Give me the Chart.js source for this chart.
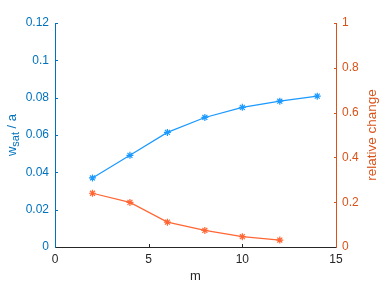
<!DOCTYPE html>
<html><head><meta charset="utf-8">
<script src="https://cdn.jsdelivr.net/npm/chart.js@4.4.0/dist/chart.umd.min.js"></script>
<style>html,body{margin:0;padding:0;background:#fff;}canvas{display:block;}</style>
</head><body>
<canvas id="c" width="379" height="285"></canvas>
<script>
// ---- data ----
const mBlue = [2, 4, 6, 8, 10, 12, 14];
const wsatValues = [0.0370, 0.0491, 0.0614, 0.0694, 0.0748, 0.0781, 0.0808];
const mOrange = [2, 4, 6, 8, 10, 12];
const relChangeValues = [0.240, 0.199, 0.111, 0.074, 0.046, 0.031];
const xTicks = [0, 5, 10, 15];
const leftTicks = [0, 0.02, 0.04, 0.06, 0.08, 0.1, 0.12];
const rightTicks = [0, 0.2, 0.4, 0.6, 0.8, 1];
const xTitle = 'm';
const leftTitleMain = 'w';
const leftTitleSub = 'sat';
const leftTitleRest = ' / a';
const rightTitle = 'relative change';

// ---- styles ----
const LEFT_C = '#0072BD';
const RIGHT_C = '#D95319';
const AX_C = '#262626';
const BLUE_LINE = 'rgb(26,153,255)';
const ORANGE_LINE = 'rgb(255,102,51)';
const FONT = "'Liberation Sans', Arial, sans-serif";

function setTicks(arr) { return function (scale) { scale.ticks = arr.map(v => ({ value: v })); }; }

const inwardTicks = {
  id: 'inwardTicks',
  afterDatasetsDraw(chart) {
    const { ctx, chartArea: a, scales } = chart;
    const L = 3;
    ctx.save();
    ctx.lineWidth = 1;
    ctx.strokeStyle = AX_C;
    scales.x.ticks.forEach(t => {
      if (t.value === scales.x.min || t.value === scales.x.max) return;
      const px = Math.round(scales.x.getPixelForValue(t.value)) + 0.5;
      ctx.beginPath(); ctx.moveTo(px, a.bottom); ctx.lineTo(px, a.bottom - L); ctx.stroke();
    });
    ctx.strokeStyle = LEFT_C;
    scales.y.ticks.forEach(t => {
      if (t.value === scales.y.min) return;
      const py = Math.round(scales.y.getPixelForValue(t.value)) + 0.5;
      ctx.beginPath(); ctx.moveTo(a.left, py); ctx.lineTo(a.left + L, py); ctx.stroke();
    });
    ctx.strokeStyle = RIGHT_C;
    scales.y1.ticks.forEach(t => {
      if (t.value === scales.y1.min) return;
      const py = Math.round(scales.y1.getPixelForValue(t.value)) + 0.5;
      ctx.beginPath(); ctx.moveTo(a.right + 1, py); ctx.lineTo(a.right + 1 - L, py); ctx.stroke();
    });
    ctx.restore();
  },
  afterDraw(chart) {
    const { ctx, chartArea: a } = chart;
    const cy = (a.top + a.bottom) / 2;
    ctx.save();
    // x title
    ctx.fillStyle = AX_C;
    ctx.font = '13px ' + FONT;
    ctx.textAlign = 'center';
    ctx.textBaseline = 'alphabetic';
    ctx.fillText(xTitle, (a.left + a.right) / 2, 280);
    // left title with subscript
    ctx.save();
    ctx.translate(15.5, cy);
    ctx.rotate(-Math.PI / 2);
    ctx.fillStyle = LEFT_C;
    ctx.textAlign = 'left';
    const mainF = '13px ' + FONT, subF = '11px ' + FONT;
    ctx.font = mainF; const w1 = ctx.measureText(leftTitleMain).width;
    ctx.font = subF; const w2 = ctx.measureText(leftTitleSub).width;
    ctx.font = mainF; const w3 = ctx.measureText(leftTitleRest).width;
    let x0 = -(w1 + w2 + w3) / 2;
    ctx.font = mainF; ctx.fillText(leftTitleMain, x0, 0); x0 += w1;
    ctx.font = subF; ctx.fillText(leftTitleSub, x0, 3); x0 += w2;
    ctx.font = mainF; ctx.fillText(leftTitleRest, x0, 0);
    ctx.restore();
    // right title
    ctx.save();
    ctx.translate(375.5, cy);
    ctx.rotate(-Math.PI / 2);
    ctx.fillStyle = RIGHT_C;
    ctx.font = '13.5px ' + FONT;
    ctx.textAlign = 'center';
    ctx.fillText(rightTitle, 0, 0);
    ctx.restore();
    ctx.restore();
  }
};

new Chart(document.getElementById('c'), {
  type: 'line',
  data: {
    datasets: [
      {
        label: 'wsat/a',
        data: mBlue.map((m, i) => ({ x: m, y: wsatValues[i] })),
        yAxisID: 'y',
        borderColor: BLUE_LINE,
        backgroundColor: BLUE_LINE,
        borderWidth: 1.2,
        pointStyle: 'star',
        pointRadius: 3.5,
        pointBorderWidth: 1.2,
        pointBorderColor: BLUE_LINE,
        tension: 0,
        fill: false
      },
      {
        label: 'relative change',
        data: mOrange.map((m, i) => ({ x: m, y: relChangeValues[i] })),
        yAxisID: 'y1',
        borderColor: ORANGE_LINE,
        backgroundColor: ORANGE_LINE,
        borderWidth: 1.2,
        pointStyle: 'star',
        pointRadius: 3.5,
        pointBorderWidth: 1.2,
        pointBorderColor: ORANGE_LINE,
        tension: 0,
        fill: false
      }
    ]
  },
  options: {
    responsive: false,
    animation: false,
    events: [],
    layout: { padding: { top: 23, left: 0, right: 0, bottom: 0 } },
    plugins: { legend: { display: false }, tooltip: { enabled: false } },
    scales: {
      x: {
        type: 'linear', position: 'bottom', min: 0, max: 15,
        afterBuildTicks: setTicks(xTicks),
        afterFit(s) { s.height = 38; },
        grid: { display: true, drawOnChartArea: false, drawTicks: false },
        border: { display: true, color: AX_C, width: 1 },
        ticks: { color: AX_C, font: { family: FONT, size: 12 }, padding: 5, maxRotation: 0, callback: v => String(v) }
      },
      y: {
        type: 'linear', position: 'left', min: 0, max: 0.12,
        afterBuildTicks: setTicks(leftTicks),
        afterFit(s) { s.width = 55; },
        grid: { display: true, drawOnChartArea: false, drawTicks: false },
        border: { display: true, color: LEFT_C, width: 1 },
        ticks: { color: LEFT_C, font: { family: FONT, size: 12 }, padding: 6, callback: v => String(v) }
      },
      y1: {
        type: 'linear', position: 'right', min: 0, max: 1,
        afterBuildTicks: setTicks(rightTicks),
        afterFit(s) { s.width = 43; },
        grid: { display: true, drawOnChartArea: false, drawTicks: false },
        border: { display: true, color: RIGHT_C, width: 1 },
        ticks: { color: RIGHT_C, font: { family: FONT, size: 12 }, padding: 6, callback: v => String(v) }
      }
    }
  },
  plugins: [inwardTicks]
});
</script>
</body></html>
